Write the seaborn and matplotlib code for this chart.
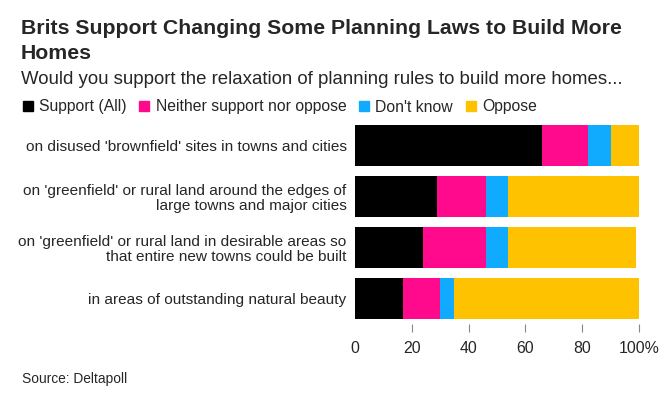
import matplotlib
matplotlib.use('Agg')
import matplotlib.pyplot as plt
import matplotlib.patches as mpatches
import numpy as np
import pandas as pd
import seaborn as sns

categories = [
    "on disused 'brownfield' sites in towns and cities",
    "on 'greenfield' or rural land around the edges of\nlarge towns and major cities",
    "on 'greenfield' or rural land in desirable areas so\nthat entire new towns could be built",
    "in areas of outstanding natural beauty",
]
series = ["Support (All)", "Neither support nor oppose", "Don't know", "Oppose"]
support = [66, 29, 24, 17]
neither = [16, 17, 22, 13]
dont_know = [8, 8, 8, 5]
oppose = [10, 46, 45, 65]
colors = ["#000000", "#ff0a8c", "#10aaff", "#ffc200"]
tick_values = [0, 20, 40, 60, 80, 100]
tick_labels = ["0", "20", "40", "60", "80", "100%"]

sns.set_style("white")
plt.rcParams['font.family'] = ['Liberation Sans', 'DejaVu Sans']

df = pd.DataFrame({"category": categories, series[0]: support, series[1]: neither,
                   series[2]: dont_know, series[3]: oppose})
cum = df[series].cumsum(axis=1)

fig = plt.figure(figsize=(6.6, 4.04), dpi=100)
fig.patch.set_facecolor("#fff")
ax = fig.add_axes([355 / 660, 1 - 324 / 404, 284 / 660, 204 / 404])

# draw cumulative totals from the longest down so each segment shows
for name, col in reversed(list(zip(series, colors))):
    sns.barplot(x=cum[name], y=df["category"], color=col, orient="h",
                width=0.8, saturation=1, ax=ax, linewidth=0)

ax.set_xlim(0, 100)
ax.set_ylim(3.5, -0.5)
ax.set_xlabel("")
ax.set_ylabel("")
ax.set_xticks(tick_values)
ax.set_xticklabels(tick_labels, fontsize=11.4)
ax.tick_params(axis="x", bottom=True, length=6, width=0.8, color="#888888", pad=6, direction="out")
ax.tick_params(axis="y", left=False, length=0, pad=6, labelsize=11.1)
for lab in ax.get_yticklabels():
    lab.set_linespacing(1.1)
ax.xaxis.get_major_ticks()[0].tick1line.set_visible(False)
for s in ax.spines.values():
    s.set_visible(False)

fig.text(21 / 660, 1 - 28 / 404, "Brits Support Changing Some Planning Laws to Build More",
         fontsize=15.3, fontweight="bold", va="center", ha="left")
fig.text(21 / 660, 1 - 53.5 / 404, "Homes",
         fontsize=15.3, fontweight="bold", va="center", ha="left")
fig.text(21 / 660, 1 - 80 / 404, "Would you support the relaxation of planning rules to build more homes...",
         fontsize=13.4, va="center", ha="left")

handles = [mpatches.Patch(color=c, label=s) for s, c in zip(series, colors)]
fig.legend(handles=handles, loc="center left", bbox_to_anchor=(23 / 660, 1 - 107 / 404),
           ncol=4, frameon=False, fontsize=11.3, handlelength=0.64, handleheight=0.64,
           handletextpad=0.4, columnspacing=0.8, borderaxespad=0, borderpad=0)

fig.text(22 / 660, 1 - 379 / 404, "Source: Deltapoll", fontsize=9.9, va="center", ha="left")

fig.savefig("out.png", dpi=100, facecolor="#fff")
